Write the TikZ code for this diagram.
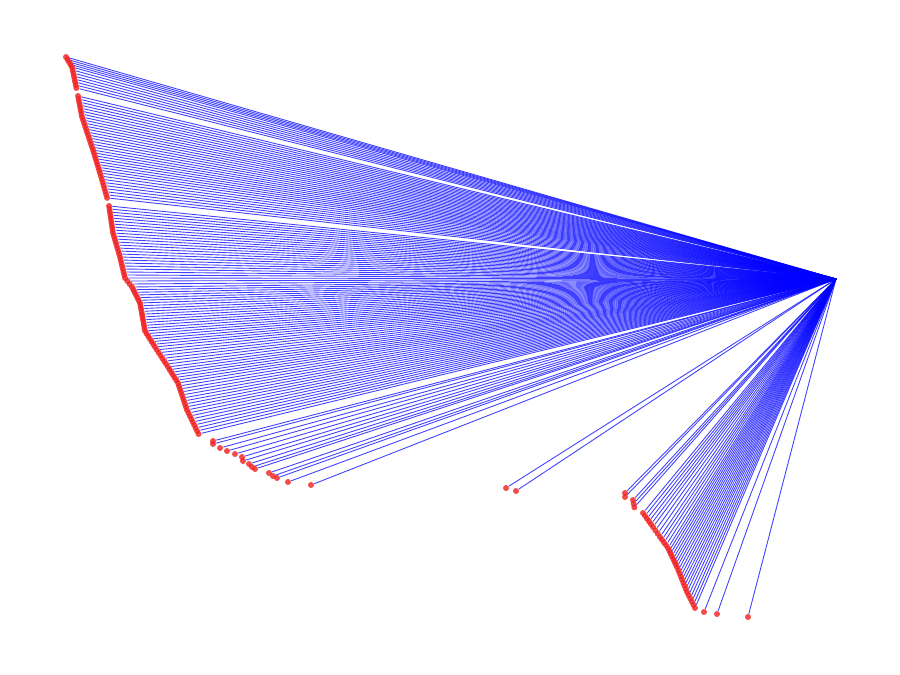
\documentclass[tikz,border=0pt]{standalone}
\usetikzlibrary{backgrounds,calc}
\definecolor{edgeblue}{RGB}{0,0,255}
\definecolor{leafred}{RGB}{240,30,30}
\tikzset{
  leaf/.style={circle, fill=leafred, fill opacity=0.8, inner sep=0pt, minimum size=0.12cm},
  edge/.style={edgeblue, line width=0.5pt, opacity=0.75},
}
\begin{document}
\begin{tikzpicture}[x=0.02cm, y=-0.02cm]
\useasboundingbox (0,0) rectangle (900,675);
\coordinate (hub) at (836,279);
% dense runs of leaves: start x/y, end x/y, count
\foreach \xa/\ya/\xb/\yb/\n [count=\s] in {
  66/57/72/67/4, 72/67/77/91/8, 78/96/82/117/7, 82/117/93/150/11,
  93/150/100/173/8, 100/173/108/201/9, 109/206/113/233/9, 113/233/120/257/8,
  120/257/125/278/7, 125/278/132/287/3, 132/287/140/303/6, 140/303/145/331/10,
  145/331/155/347/6, 155/347/168/367/7, 168/367/178/383/6, 178/383/187/410/9,
  187/410/200/437/9,
  633/500/635/511/3, 643/513/653/527/5, 653/527/660/537/3, 660/537/668/548/4,
  668/548/677/567/7, 677/567/687/592/8, 687/592/695/608/5}{
  \foreach \k in {1,...,\n}{
    \pgfmathsetmacro{\px}{\xa+(\xb-\xa)*(\k-1)/\n}
    \pgfmathsetmacro{\py}{\ya+(\yb-\ya)*(\k-1)/\n}
    \node[leaf] (r\s-\k) at (\px,\py) {};
    \begin{pgfonlayer}{background}
      \draw[edge] (hub) -- (r\s-\k);
    \end{pgfonlayer}
  }
}
% single leaves
\foreach \px/\py [count=\i] in {
  213/441, 213/444, 220/448, 227/451, 235/454, 242/457, 243/461, 249/464,
  252/467, 255/469, 269/473, 273/476, 277/478, 288/482, 311/485,
  506/488, 516/491, 625/493, 625/497, 695/608, 704/612, 717/614, 748/617}{
  \node[leaf] (p\i) at (\px,\py) {};
  \begin{pgfonlayer}{background}
    \draw[edge] (hub) -- (p\i);
  \end{pgfonlayer}
}
\end{tikzpicture}
\end{document}
